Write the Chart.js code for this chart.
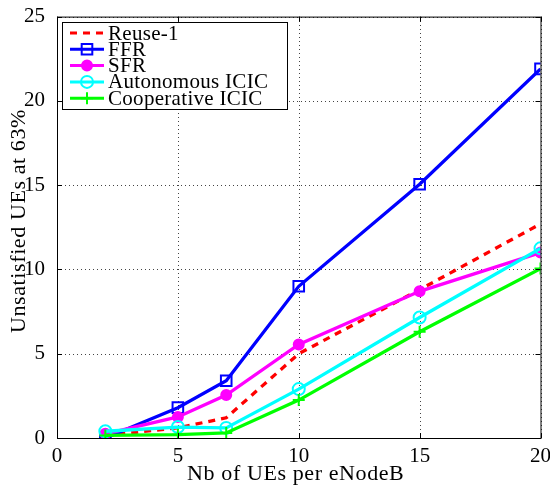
<!DOCTYPE html>
<html>
<head>
<meta charset="utf-8">
<script src="https://cdn.jsdelivr.net/npm/chart.js@4"></script>
<style>
  html, body { margin: 0; padding: 0; background: #fff; }
  #wrap { width: 550px; height: 486px; }
</style>
</head>
<body>
<div id="wrap"><canvas id="chart" width="550" height="486"></canvas></div>
<script>
const ueCounts = [2, 5, 7, 10, 15, 20];
const reuse1 = [0.15, 0.6, 1.2, 5.0, 8.8, 12.7];
const ffr = [0.0, 1.8, 3.4, 9.0, 15.05, 21.9];
const sfr = [0.25, 1.25, 2.55, 5.55, 8.7, 11.0];
const autoIcic = [0.4, 0.65, 0.6, 2.9, 7.15, 11.25];
const coopIcic = [0.15, 0.2, 0.3, 2.25, 6.3, 10.05];
const xTicks = [0, 5, 10, 15, 20];
const yTicks = [0, 5, 10, 15, 20, 25];
const xTitle = "Nb of UEs per eNodeB";
const yTitle = "Unsatisfied UEs at 63%";

const serif = "'Liberation Serif', 'DejaVu Serif', serif";

function toPoints(ys) {
  return ueCounts.map((x, i) => ({ x: x, y: ys[i] }));
}

const series = [
  { label: "Reuse-1", data: reuse1, color: "#ff0000", dash: [7, 6], point: false },
  { label: "FFR", data: ffr, color: "#0000ff", style: "rect", radius: 7.5, fill: false },
  { label: "SFR", data: sfr, color: "#ff00ff", style: "circle", radius: 5, fill: true },
  { label: "Autonomous ICIC", data: autoIcic, color: "#00ffff", style: "circle", radius: 6, fill: false },
  { label: "Cooperative ICIC", data: coopIcic, color: "#00ff00", style: "cross", radius: 6, fill: false },
];

// dotted grid behind the lines
const gridPlugin = {
  id: "dotgrid",
  beforeDatasetsDraw(chart) {
    const { ctx, chartArea: a, scales } = chart;
    ctx.save();
    ctx.strokeStyle = "#444";
    ctx.lineWidth = 1;
    ctx.setLineDash([1, 3]);
    ctx.beginPath();
    xTicks.forEach(v => {
      const px = Math.round(scales.x.getPixelForValue(v)) + 0.5;
      ctx.moveTo(px, a.bottom); ctx.lineTo(px, a.top);
    });
    yTicks.forEach(v => {
      const py = Math.round(scales.y.getPixelForValue(v)) + 0.5;
      ctx.moveTo(a.left, py); ctx.lineTo(a.right, py);
    });
    ctx.stroke();
    ctx.restore();
  }
};

// frame, inward ticks, axis titles and legend box like the original figure
const framePlugin = {
  id: "frame",
  afterDatasetsDraw(chart) {
    const { ctx, chartArea: a, scales } = chart;
    ctx.save();
    ctx.strokeStyle = "#000";
    ctx.lineWidth = 1;
    ctx.setLineDash([]);
    ctx.strokeRect(a.left + 0.5, a.top + 0.5, a.right - a.left, a.bottom - a.top);
    ctx.beginPath();
    xTicks.forEach(v => {
      const px = Math.round(scales.x.getPixelForValue(v)) + 0.5;
      ctx.moveTo(px, a.bottom); ctx.lineTo(px, a.bottom - 5);
      ctx.moveTo(px, a.top); ctx.lineTo(px, a.top + 5);
    });
    yTicks.forEach(v => {
      const py = Math.round(scales.y.getPixelForValue(v)) + 0.5;
      ctx.moveTo(a.left, py); ctx.lineTo(a.left + 5, py);
      ctx.moveTo(a.right, py); ctx.lineTo(a.right - 5, py);
    });
    ctx.stroke();

    // axis titles
    ctx.fillStyle = "#000";
    ctx.font = "22px " + serif;
    ctx.textAlign = "center";
    ctx.textBaseline = "middle";
    ctx.letterSpacing = "0.6px";
    ctx.fillText(xTitle, (a.left + a.right) / 2 - 3, 474);
    ctx.save();
    ctx.translate(19, 221);
    ctx.rotate(-Math.PI / 2);
    ctx.fillText(yTitle, 0, 0);
    ctx.restore();

    // legend
    const bx = 62, by = 22, bw = 225, bh = 87;
    ctx.fillStyle = "#fff";
    ctx.fillRect(bx, by, bw, bh);
    ctx.strokeStyle = "#000";
    ctx.lineWidth = 1;
    ctx.strokeRect(bx + 0.5, by + 0.5, bw, bh);
    ctx.font = "21px " + serif;
    ctx.textAlign = "left";
    ctx.letterSpacing = "0.3px";
    chart.data.datasets.forEach((ds, i) => {
      const y = by + 11 + i * 16.3;
      ctx.strokeStyle = ds.borderColor;
      ctx.lineWidth = 3;
      ctx.setLineDash(ds.borderDash || []);
      ctx.beginPath();
      ctx.moveTo(70, y); ctx.lineTo(104, y);
      ctx.stroke();
      ctx.setLineDash([]);
      if (ds.pointRadius > 0) {
        ctx.lineWidth = 2;
        ctx.strokeStyle = ds.pointBorderColor;
        ctx.fillStyle = ds.pointBackgroundColor;
        Chart.helpers.drawPoint(ctx, {
          pointStyle: ds.pointStyle,
          radius: ds.pointRadius,
          borderWidth: 2,
          rotation: 0
        }, 87, y);
      }
      ctx.fillStyle = "#000";
      ctx.fillText(ds.label, 108, y + 1);
    });
    ctx.restore();
  }
};

new Chart(document.getElementById("chart").getContext("2d"), {
  type: "line",
  data: {
    datasets: series.map((s, i) => ({
      label: s.label,
      data: toPoints(s.data),
      borderColor: s.color,
      borderWidth: 3.3,
      borderDash: s.dash || [],
      pointStyle: s.style || "circle",
      pointRadius: s.point === false ? 0 : s.radius,
      pointBorderWidth: 2,
      pointBorderColor: s.color,
      pointBackgroundColor: s.fill ? s.color : "rgba(0,0,0,0)",
      fill: false,
      tension: 0,
      order: series.length - i,
    })),
  },
  options: {
    responsive: false,
    animation: false,
    layout: { padding: { top: 16, right: 9, left: 0, bottom: 0 } },
    plugins: { legend: { display: false }, tooltip: { enabled: false } },
    scales: {
      x: {
        type: "linear",
        min: 0, max: 20,
        afterFit: s => { s.height = 48; },
        afterBuildTicks: s => { s.ticks = xTicks.map(v => ({ value: v })); },
        grid: { display: false },
        border: { display: false },
        ticks: { color: "#000", font: { family: serif, size: 21 }, padding: -2, maxRotation: 0 },
      },
      y: {
        min: 0, max: 25,
        afterFit: s => { s.width = 57; },
        afterBuildTicks: s => { s.ticks = yTicks.map(v => ({ value: v })); },
        grid: { display: false },
        border: { display: false },
        ticks: { color: "#000", font: { family: serif, size: 21 }, padding: 4 },
      },
    },
  },
  plugins: [gridPlugin, framePlugin],
});
</script>
</body>
</html>
